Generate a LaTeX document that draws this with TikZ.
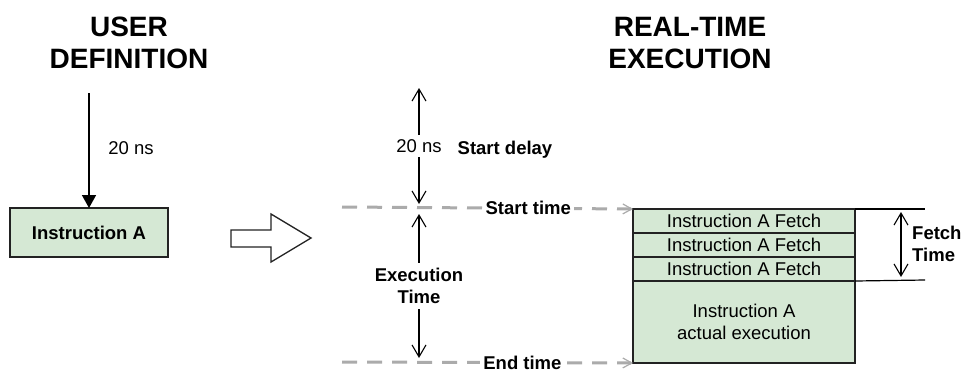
\documentclass[tikz,border=0pt]{standalone}
\usepackage{fontspec}
\setmainfont{Liberation Sans}
\usepackage{xcolor}
\usepackage{tikz}
\usetikzlibrary{arrows.meta,positioning}
\definecolor{instrGreen}{HTML}{D5E8D4}
\definecolor{instrEdge}{HTML}{222222}
\definecolor{guideGray}{HTML}{ABABAB}

\begin{document}
\begin{tikzpicture}[x=1pt,y=-1pt,
        heading/.style={align=center, font=\fontsize{28}{32}\selectfont\bfseries},
        lbl/.style={font=\fontsize{18.5}{22}\selectfont, inner sep=1pt},
        blbl/.style={lbl, font=\fontsize{18.5}{22}\selectfont\bfseries},
        instr/.style={draw=instrEdge, fill=instrGreen, line width=1.2pt, rectangle, inner sep=0pt, outer sep=0pt, minimum width=222pt, font=\fontsize{18.5}{22}\selectfont, align=center},
        span/.style={{Straight Barb[length=12pt,width=14pt]}-{Straight Barb[length=12pt,width=14pt]}, line width=1.1pt},
        guide/.style={guideGray, line width=3pt, dash pattern=on 15pt off 10pt, -{Straight Barb[length=9pt,width=10pt,line width=1.2pt]}},
        feed/.style={-{Triangle[length=13pt,width=14pt]}, line width=1.5pt}
    ]
        \useasboundingbox (0,0) rectangle (966,373);

        \node[heading] (userHead) at (129,43) {USER\\DEFINITION};
        \node[heading] (realHead) at (690,43) {REAL-TIME\\EXECUTION};

        \coordinate (userTop) at (89,93);
        \node[instr, fill=instrGreen, minimum width=158pt, minimum height=49pt, font=\fontsize{18.5}{22}\selectfont\bfseries] (userInstr) at (89,232.5) {Instruction A};
        \draw[feed] (userTop) -- (userInstr.north);
        \node[lbl] (userDelay) at (131,148) {20 ns};

        \draw[line width=1.3pt, draw=instrEdge] (231,230) -- (271,230) -- (271,214) -- (311,238) -- (271,262) -- (271,247) -- (231,247) -- cycle;

        \node[instr, minimum height=24pt] (fetchA) at (744,221) {Instruction A Fetch};
        \node[instr, minimum height=24pt, below=0pt of fetchA] (fetchB) {Instruction A Fetch};
        \node[instr, minimum height=24pt, below=0pt of fetchB] (fetchC) {Instruction A Fetch};
        \node[instr, minimum height=82pt, below=0pt of fetchC] (execBox) {Instruction A\\actual execution};

        \coordinate (startLeft) at (342,207);
        \coordinate (endLeft) at (342,362);
        \draw[guide] (startLeft) -- node[blbl, text=black, fill=white, pos=0.64, inner xsep=3pt] (startLbl) {Start time} (fetchA.north west);
        \draw[guide] (endLeft) -- node[blbl, text=black, fill=white, pos=0.62, inner xsep=3pt] (endLbl) {End time} (execBox.south west);

        \coordinate (delayTop) at (419,88);
        \coordinate (delayBot) at (419,204);
        \coordinate (execTop) at (419,214);
        \coordinate (execBot) at (419,358);
        \draw[span] (delayTop) -- node[lbl, fill=white, inner ysep=4pt] (delayLbl) {20 ns} (delayBot);
        \node[blbl] (delayName) at (505,150) {Start delay};
        \draw[span] (execTop) -- node[blbl, fill=white, align=center, inner ysep=5pt] (execLbl) {Execution\\Time} (execBot);

        \coordinate (fetchTopEnd) at (925,209);
        \coordinate (fetchBotEnd) at (925,280);
        \draw[line width=1.2pt] (fetchA.north east) -- (fetchTopEnd);
        \draw[line width=1.2pt] (fetchC.south east) -- (fetchBotEnd);
        \coordinate (fetchTop) at (901,212);
        \coordinate (fetchBot) at (901,277);
        \draw[span] (fetchTop) -- (fetchBot);
        \node[blbl, align=left, anchor=west] (fetchLbl) at (911,244) {Fetch\\Time};
    \end{tikzpicture}
\end{document}
